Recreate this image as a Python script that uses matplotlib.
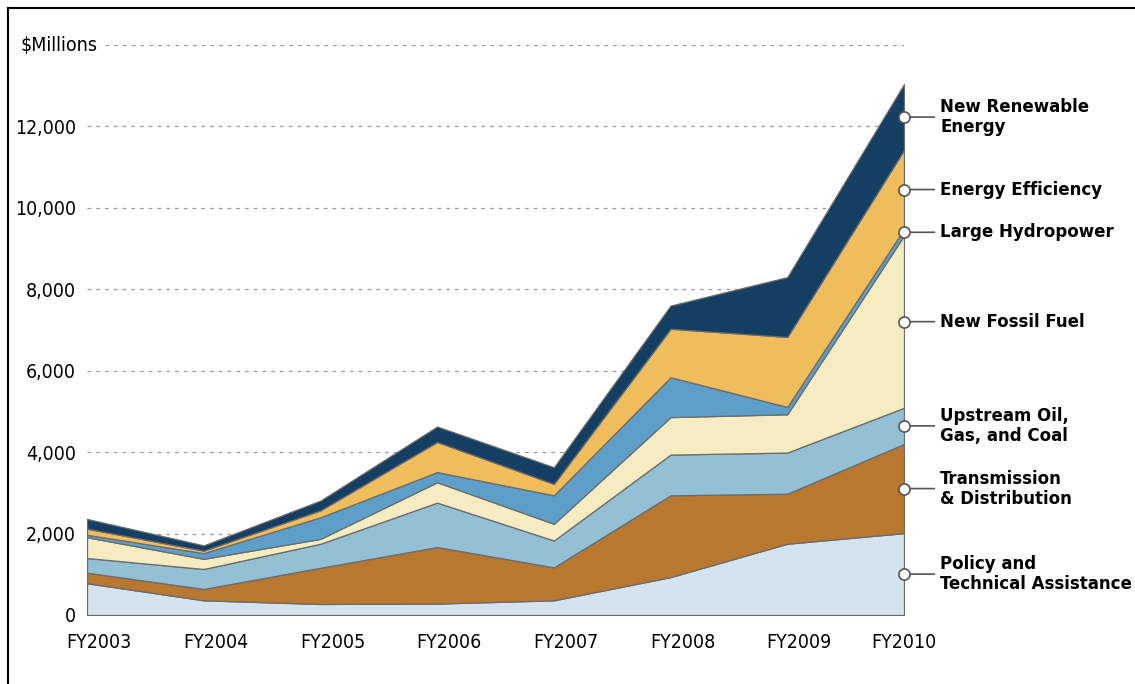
import matplotlib.pyplot as plt
import matplotlib.transforms as mtransforms
from matplotlib import font_manager as fm
import numpy as np

# Datos ($ millones)
years = ['FY2003', 'FY2004', 'FY2005', 'FY2006', 'FY2007', 'FY2008', 'FY2009', 'FY2010']
categories = ['Policy and\nTechnical Assistance', 'Transmission\n& Distribution',
              'Upstream Oil,\nGas, and Coal', 'New Fossil Fuel', 'Large Hydropower',
              'Energy Efficiency', 'New Renewable\nEnergy']
policy = [780, 360, 270, 280, 360, 930, 1750, 2010]
transmission = [260, 280, 890, 1390, 810, 2010, 1230, 2190]
upstream = [360, 490, 590, 1090, 660, 1000, 1010, 890]
fossil = [510, 250, 120, 500, 410, 920, 940, 4230]
hydro = [60, 140, 530, 250, 700, 980, 180, 160]
efficiency = [150, 60, 170, 740, 280, 1190, 1720, 1940]
renewable = [240, 130, 240, 380, 410, 570, 1470, 1620]

colors = ['#d4e4ee', '#b9782f', '#94c0d5', '#f5ecc2', '#5d9fc9', '#efbd5c', '#143f63']

# Buscar una fuente estrecha si existe (la original es condensada)
def find_font(bold):
    for f in fm.fontManager.ttflist:
        narrow = 'Narrow' in f.name or 'Condensed' in f.name or f.stretch in ('condensed', 'semi-condensed')
        isbold = f.weight in ('bold', 700, 'semibold', 600)
        italic = f.style != 'normal'
        if narrow and isbold == bold and not italic and 'Mono' not in f.name and 'Serif' not in f.name:
            return fm.FontProperties(fname=f.fname)
    return None

reg = find_font(False)
bld = find_font(True)
if reg is not None and bld is not None:
    reg.set_size(14)
    bld.set_size(13.3)
else:
    reg = fm.FontProperties(family='DejaVu Sans', size=12)
    bld = fm.FontProperties(family='DejaVu Sans', weight='bold', size=11.5)

fig = plt.figure(figsize=(11.35, 6.84), dpi=100)
ax = fig.add_axes([87 / 1135, 1 - 615 / 684, (904 - 87) / 1135, 570 / 684])

series = [policy, transmission, upstream, fossil, hydro, efficiency, renewable]
x = np.arange(len(years))

# Rejilla discontinua
for v in range(2000, 14000, 2000):
    ax.axhline(v, color='#9a9a9a', lw=0.9, ls=(0, (3, 4)), zorder=0)
ax.axhline(14000, xmin=(105 - 87) / 817, color='#9a9a9a', lw=0.9, ls=(0, (3, 4)), zorder=0)

ax.stackplot(x, series, colors=colors, edgecolor='#6b6b6b', linewidth=0.9, zorder=2)

ax.set_xlim(0, len(years) - 1)
ax.set_ylim(0, 14000)
ax.set_yticks(range(0, 14000, 2000))
ax.set_yticklabels([f'{v:,}' for v in range(0, 14000, 2000)], fontproperties=reg)
ax.set_xticks(x)
ax.set_xticklabels(years, fontproperties=reg)
ax.tick_params(length=0, pad=8)
ax.tick_params(axis='x', pad=13)
shift = mtransforms.ScaledTranslation(12 / 100, 0, fig.dpi_scale_trans)
for lab in ax.get_xticklabels()[:-1]:
    lab.set_transform(lab.get_transform() + shift)
for s in ax.spines.values():
    s.set_visible(False)
ax.text(11 / 817, 14000, '$Millions', ha='right', va='center', fontproperties=reg,
        transform=ax.get_yaxis_transform())

# Etiquetas de las series a la derecha
cum = np.cumsum([s[-1] for s in series])
bottoms = np.concatenate([[0], cum[:-1]])
for label, lo, hi in zip(categories, bottoms, cum):
    mid = (lo + hi) / 2
    ax.annotate(label, xy=(x[-1], mid), xytext=(36, 0), textcoords='offset pixels',
                ha='left', va='center', fontproperties=bld, linespacing=1.15,
                arrowprops=dict(arrowstyle='-', color='#555555', lw=1.2,
                                shrinkA=2, shrinkB=0), annotation_clip=False)
    ax.plot(x[-1], mid, 'o', ms=8, mfc='white', mec='#555555', mew=1.2,
            clip_on=False, zorder=5)

# Marco exterior (arriba e izquierda)
fig.add_artist(plt.Line2D([8 / 1135, 8 / 1135], [0, 1 - 8 / 684], color='black', lw=1.5))
fig.add_artist(plt.Line2D([8 / 1135, 1], [1 - 8 / 684, 1 - 8 / 684], color='black', lw=1.5))

fig.savefig('out.png', dpi=100)
